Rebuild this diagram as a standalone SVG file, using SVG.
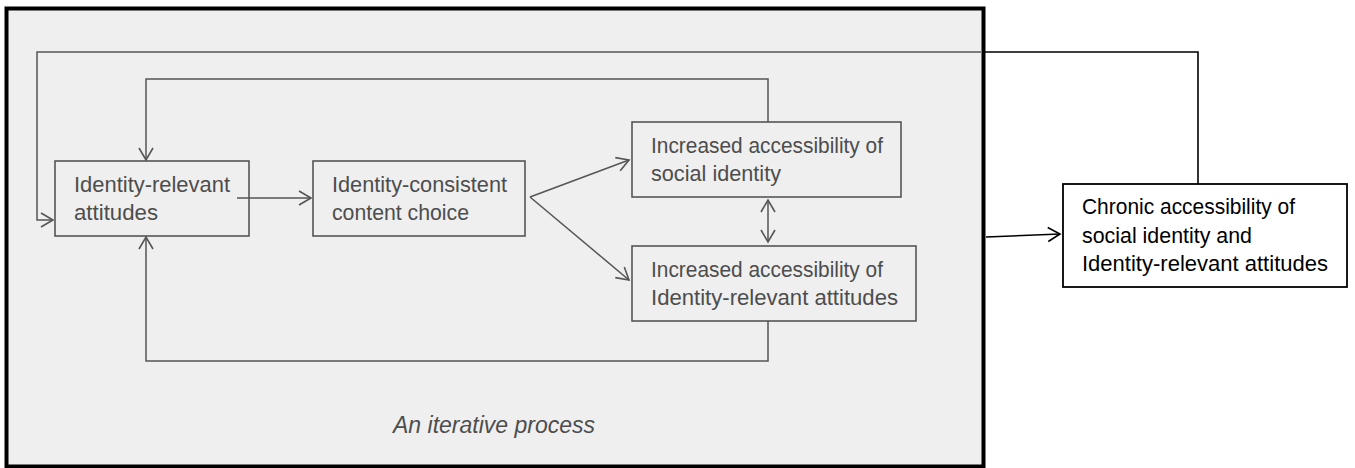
<svg xmlns="http://www.w3.org/2000/svg" width="1355" height="468" viewBox="0 0 1355 468">
<style>
.frame{fill:#efefef;stroke:#000;stroke-width:4}
.box{fill:none;stroke:#555555;stroke-width:1.6}
.rbox{fill:#fff;stroke:#000;stroke-width:1.8}
.t{font-family:"Liberation Sans",Arial,sans-serif;font-size:22px;fill:#4d4d4d}
.tb{font-family:"Liberation Sans",Arial,sans-serif;font-size:22px;fill:#000}
.ti{font-family:"Liberation Sans",Arial,sans-serif;font-size:23px;font-style:italic;fill:#4d4d4d}
.c{fill:none;stroke:#555555;stroke-width:1.5}
.cb{fill:none;stroke:#000;stroke-width:1.6}
</style>
<defs>
<marker id="ag" markerUnits="userSpaceOnUse" markerWidth="16" markerHeight="18" refX="13" refY="8" orient="auto-start-reverse" viewBox="0 0 16 18">
<path d="M1,1 L13,8 L1,15" fill="none" stroke="#555555" stroke-width="1.6"/>
</marker>
<marker id="ab" markerUnits="userSpaceOnUse" markerWidth="16" markerHeight="18" refX="13" refY="8" orient="auto" viewBox="0 0 16 18">
<path d="M1,1 L13,8 L1,15" fill="none" stroke="#000" stroke-width="1.6"/>
</marker>
</defs>
<rect id="frame" class="frame" x="6.5" y="8.5" width="977" height="458"/>
<g id="connectors">
<path class="cb" d="M983,52 H1198 V184"/>
<path class="c" d="M981,52 H37 V220 H53" marker-end="url(#ag)"/>
<path class="c" d="M768,122 V79 H146 V160" marker-end="url(#ag)"/>
<path class="c" d="M768,321 V361 H146 V237" marker-end="url(#ag)"/>
<path class="c" d="M237,198 H311" marker-end="url(#ag)"/>
<path class="c" d="M530,197 L629,160" marker-end="url(#ag)"/>
<path class="c" d="M530,197 L629,280" marker-end="url(#ag)"/>
<path class="c" d="M768,200 V242" marker-start="url(#ag)" marker-end="url(#ag)"/>
<path class="cb" d="M986,237 L1060,234" marker-end="url(#ab)"/>
</g>
<g id="n1">
<rect class="box" x="55" y="161" width="194" height="75"/>
<text class="t" x="74" y="192" textLength="156" lengthAdjust="spacingAndGlyphs">Identity-relevant</text>
<text class="t" x="74" y="220" textLength="84" lengthAdjust="spacingAndGlyphs">attitudes</text>
</g>
<g id="n2">
<rect class="box" x="313" y="161" width="212" height="75"/>
<text class="t" x="332" y="192" textLength="175" lengthAdjust="spacingAndGlyphs">Identity-consistent</text>
<text class="t" x="332" y="220" textLength="137" lengthAdjust="spacingAndGlyphs">content choice</text>
</g>
<g id="n3">
<rect class="box" x="632" y="122" width="269" height="75"/>
<text class="t" x="651" y="153" textLength="232" lengthAdjust="spacingAndGlyphs">Increased accessibility of</text>
<text class="t" x="651" y="181" textLength="130" lengthAdjust="spacingAndGlyphs">social identity</text>
</g>
<g id="n4">
<rect class="box" x="632" y="246" width="284" height="75"/>
<text class="t" x="651" y="277" textLength="232" lengthAdjust="spacingAndGlyphs">Increased accessibility of</text>
<text class="t" x="651" y="305" textLength="247" lengthAdjust="spacingAndGlyphs">Identity-relevant attitudes</text>
</g>
<g id="n5">
<rect class="rbox" x="1063" y="184" width="284" height="103"/>
<text class="tb" x="1082" y="214" textLength="213" lengthAdjust="spacingAndGlyphs">Chronic accessibility of</text>
<text class="tb" x="1082" y="243" textLength="170" lengthAdjust="spacingAndGlyphs">social identity and</text>
<text class="tb" x="1082" y="271" textLength="246" lengthAdjust="spacingAndGlyphs">Identity-relevant attitudes</text>
</g>
<g id="label">
<text class="ti" x="393" y="433" textLength="202" lengthAdjust="spacingAndGlyphs">An iterative process</text>
</g>
</svg>
